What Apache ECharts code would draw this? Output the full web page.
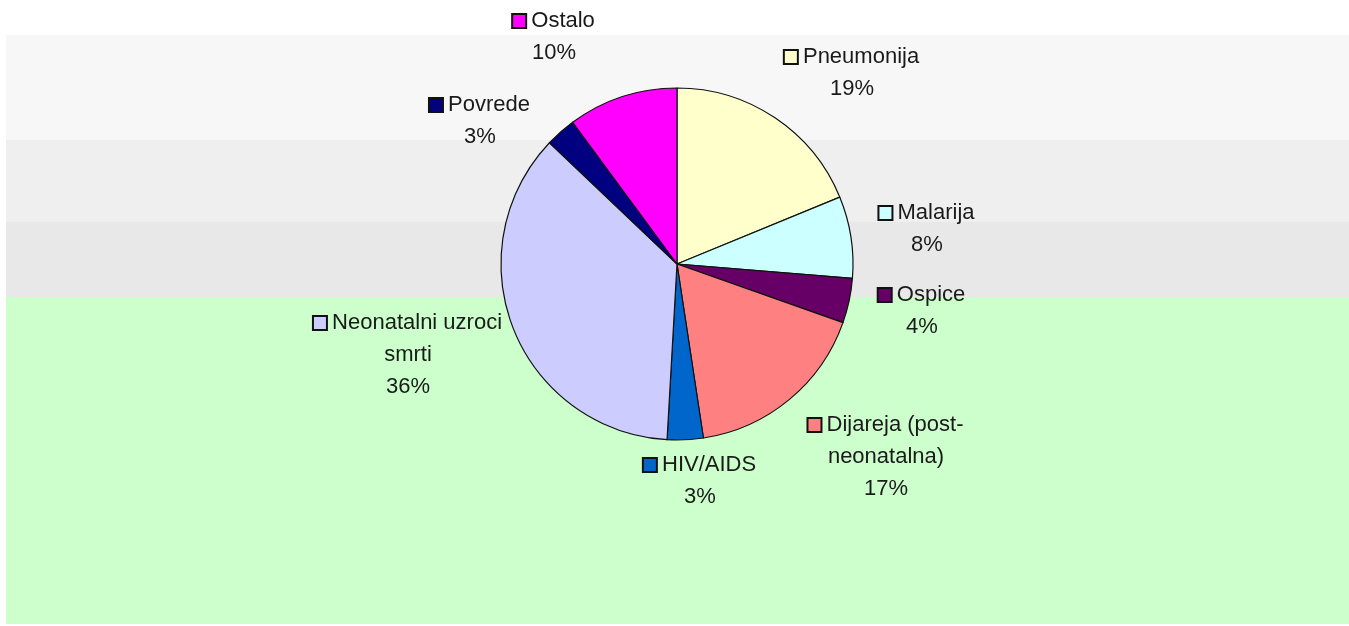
<!DOCTYPE html>
<html>
<head>
<meta charset="utf-8">
<script src="https://cdn.jsdelivr.net/npm/echarts@6/dist/echarts.min.js"></script>
<style>
  html, body { margin: 0; padding: 0; background: #fff; }
  #chart { width: 1349px; height: 626px; }
</style>
</head>
<body>
<div id="chart"></div>
<script>
// uzroci smrti djece (procjena udjela, čitano sa slike)
const categories = ['Pneumonija', 'Malarija', 'Ospice', 'Dijareja (post-neonatalna)',
  'HIV/AIDS', 'Neonatalni uzroci smrti', 'Povrede', 'Ostalo']
const values = [18.8, 7.5, 4.1, 17.2, 3.3, 36.2, 2.8, 10.1]
// kako je naziv prelomljen u oznaci
const labelLines = ['Pneumonija', 'Malarija', 'Ospice', 'Dijareja (post-\nneonatalna)',
  'HIV/AIDS', 'Neonatalni uzroci\nsmrti', 'Povrede', 'Ostalo']

const colors = ['#FFFFCC', '#CCFFFF', '#660066', '#FF8080', '#0066CC', '#CCCCFF', '#000080', '#FF00FF']
// središta oznaka (px)
const labelPos = [[852, 73], [927, 229], [922, 311], [886, 457], [700, 481], [408, 355], [480, 121], [554, 37]]

const chart = echarts.init(document.getElementById('chart'))

const pieData = categories.map((name, i) => ({
  name: name,
  value: values[i],
  itemStyle: { color: colors[i] },
  label: {
    rich: {
      sq: {
        width: 12,
        height: 12,
        backgroundColor: colors[i],
        borderColor: '#111',
        borderWidth: 2
      }
    }
  }
}))

const bands = [
  { y: 35, h: 105, c: '#f7f7f7' },
  { y: 140, h: 82, c: '#efefef' },
  { y: 222, h: 75, c: '#e8e8e8' },
  { y: 297, h: 327, c: '#ccffcc' }
]

chart.setOption({
  animation: false,
  graphic: bands.map(b => ({
    type: 'rect',
    silent: true,
    z: -10,
    shape: { x: 6, y: b.y, width: 1343, height: b.h },
    style: { fill: b.c }
  })),
  series: [
    {
      type: 'pie',
      center: [677, 264],
      radius: 176,
      startAngle: 90,
      clockwise: true,
      percentPrecision: 0,
      itemStyle: {
        borderColor: '#111',
        borderWidth: 1.2
      },
      labelLine: { show: false },
      label: {
        show: true,
        fontFamily: 'Liberation Sans, Arial, sans-serif',
        fontSize: 22,
        color: '#1a1a1a',
        lineHeight: 32,
        align: 'center',
        formatter: params => {
          const parts = labelLines[params.dataIndex].split('\n')
          let s = '{sq|}{t| ' + parts[0] + '}'
          for (let k = 1; k < parts.length; k++) s += '\n{t|' + parts[k] + '}'
          return s + '\n{t|' + params.percent + '%}'
        },
        rich: {
          t: {
            fontFamily: 'Liberation Sans, Arial, sans-serif',
            fontSize: 22,
            color: '#1a1a1a',
            lineHeight: 32
          }
        }
      },
      labelLayout: params => ({
        x: labelPos[params.dataIndex][0],
        y: labelPos[params.dataIndex][1],
        align: 'center',
        verticalAlign: 'middle'
      }),
      emphasis: { disabled: true },
      data: pieData
    }
  ]
})
</script>
</body>
</html>
